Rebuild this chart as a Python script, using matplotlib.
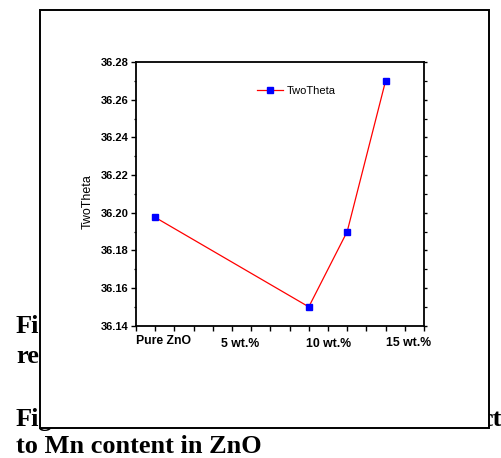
import matplotlib.pyplot as plt
from matplotlib.patches import Rectangle
from matplotlib.ticker import MultipleLocator
import matplotlib.transforms as mtransforms

# data
xpos = [1, 9, 11, 13]
two_theta = [36.1975, 36.150, 36.190, 36.270]
xlabels = ['Pure ZnO', '5 wt.%', '10 wt.%', '15 wt.%']
xlabel_pos = [1.42, 5.42, 10.05, 14.2]
xlabel_y = [-0.058, -0.068, -0.069, -0.066]

plt.rcParams['font.family'] = ['Liberation Sans', 'DejaVu Sans']

fig = plt.figure(figsize=(5.01, 4.58), dpi=100)

# caption text of the page, partly hidden behind the framed figure
serif = dict(family=['Liberation Serif', 'DejaVu Serif'], fontsize=19, fontweight='bold', zorder=1)
fig.text(16/501, 1 - 333/458, 'Fig', **serif)
fig.text(16/501, 1 - 363/458, 're', **serif)
fig.text(16/501, 1 - 426/458, 'Fig', **serif)
fig.text(501/501, 1 - 426/458, 'ct', ha='right', **serif)
fig.text(16/501, 1 - 453/458, 'to Mn content in ZnO', **serif)

# white frame box
frame = Rectangle((40/501, 1 - 427.7/458), (489-40)/501, (427.7-9.5)/458,
                  transform=fig.transFigure, facecolor='white', edgecolor='black',
                  linewidth=1.4, zorder=2)
fig.patches.append(frame)

ax = fig.add_axes([136/501, 1 - 325.7/458, 288/501, 263.7/458])
ax.set_zorder(3)

ax.plot(xpos, two_theta, color='red', linewidth=0.9, marker='s', markersize=4.2,
        markerfacecolor='blue', markeredgecolor='blue', label='TwoTheta')

ax.set_xlim(0, 15)
ax.set_ylim(36.14, 36.28)
ax.xaxis.set_major_locator(MultipleLocator(1))
ax.yaxis.set_major_locator(MultipleLocator(0.02))
ax.yaxis.set_minor_locator(MultipleLocator(0.01))
ax.set_yticklabels([f'{v:.2f}' for v in ax.get_yticks()])
ax.set_xticklabels([])

for s in ax.spines.values():
    s.set_linewidth(1.3)

ax.tick_params(axis='x', which='major', direction='out', length=3.5, width=1.0,
               top=False, bottom=True)
ax.tick_params(axis='y', which='major', direction='out', length=3.8, width=1.0,
               pad=1.5, labelsize=8)
ax.tick_params(axis='y', which='minor', direction='out', length=1.8, width=0.9)
ax.tick_params(axis='y', which='both', right=True)
ax.tick_params(axis='y', which='major', right=True)
for lab in ax.get_yticklabels():
    lab.set_fontweight('bold')

# right side ticks are short
for t in ax.yaxis.get_major_ticks():
    t.tick2line.set_markersize(1.8)

trans = mtransforms.blended_transform_factory(ax.transData, ax.transAxes)
for lab, xp, yp in zip(xlabels, xlabel_pos, xlabel_y):
    ax.text(xp, yp, lab, transform=trans, ha='center', va='center',
            fontsize=8.8, fontweight='bold')

ax.set_ylabel('TwoTheta', fontsize=9)
ax.yaxis.set_label_coords(-0.148, 0.469)

ax.legend(loc='center left', bbox_to_anchor=(0.42, 0.891), frameon=False,
          fontsize=8, handlelength=2.35, handletextpad=0.35, borderpad=0,
          borderaxespad=0)

fig.savefig('out.png', dpi=100)
